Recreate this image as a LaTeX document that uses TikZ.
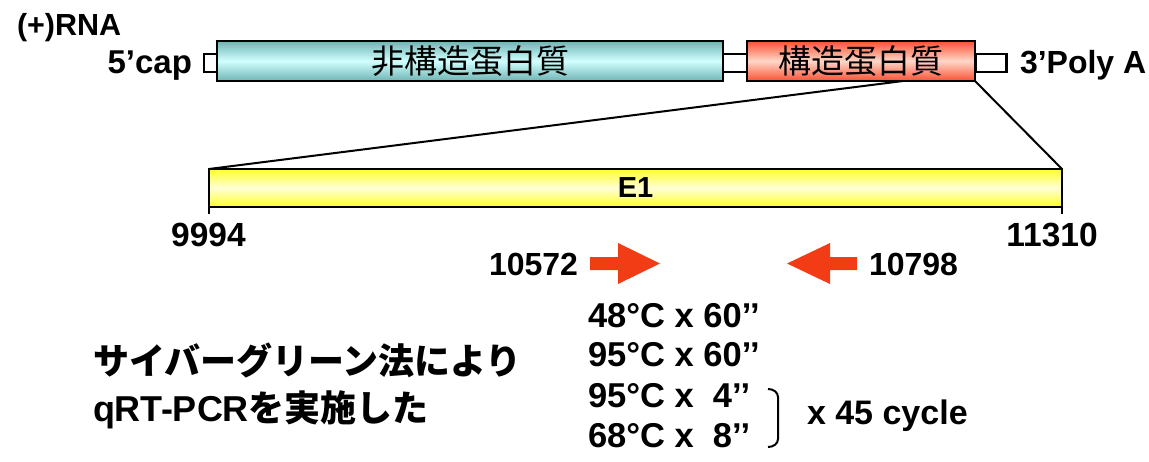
\documentclass[tikz,border=0pt]{standalone}
\usepackage{fontspec}
\setmainfont{Liberation Sans}
\newfontfamily\cjk{Noto Sans CJK JP}
\definecolor{cyedge}{RGB}{110,180,180}
\definecolor{cymid}{RGB}{210,255,255}
\definecolor{rdedge}{RGB}{250,80,50}
\definecolor{rdmid}{RGB}{255,215,200}
\definecolor{yeedge}{RGB}{255,255,40}
\definecolor{yemid}{RGB}{255,255,215}
\definecolor{arrowc}{RGB}{242,60,22}
\tikzset{
  gbox/.style={draw=black, line width=2.5pt, rectangle, inner sep=0pt, outer sep=0pt},
  wbox/.style={gbox, fill=white},
  lbl/.style={inner sep=0pt, outer sep=0pt, font=\bfseries\fontsize{32}{38}\selectfont},
  prot/.style={inner sep=0pt, outer sep=0pt, anchor=base west, font=\bfseries\fontsize{34.5}{40}\selectfont},
  jp/.style={inner sep=0pt, outer sep=0pt, anchor=base west, font=\bfseries\fontsize{36}{42}\selectfont},
  conn/.style={draw=black, line width=2pt},
  prim/.style={fill=arrowc, draw=none}
}
\begin{document}
\begin{tikzpicture}[x=1pt,y=-1pt]
\useasboundingbox (0,0) rectangle (1149,461);
% top RNA
\node[lbl, anchor=base west, font=\bfseries\fontsize{30.5}{36}\selectfont] (rna) at (17,35) {(+)RNA};
\node[wbox, minimum width=13pt, minimum height=18pt] (cap) at (210.5,63) {};
\node[wbox, minimum width=26pt, minimum height=18pt] (link) at (735,63) {};
\node[wbox, minimum width=31pt, minimum height=18pt] (tail) at (991,63) {};
\node[gbox, minimum width=506pt, minimum height=40pt, top color=cyedge, bottom color=cyedge, middle color=cymid, font=\cjk\fontsize{33}{38}\selectfont] (ns) at (470,61) {非構造蛋白質};
\node[gbox, minimum width=228pt, minimum height=40pt, top color=rdedge, bottom color=rdedge, middle color=rdmid, font=\cjk\fontsize{33}{38}\selectfont] (st) at (861,61) {構造蛋白質};
\node[lbl, anchor=base east, font=\bfseries\fontsize{33}{38}\selectfont] (cap5) at (192,73) {5’cap};
\node[lbl, anchor=base west] (poly) at (1020,73) {3’Poly A};
% E1
\node[gbox, minimum width=853pt, minimum height=38pt, top color=yeedge, bottom color=yeedge, middle color=yemid, font=\bfseries\fontsize{29}{32}\selectfont] (e1) at (635.5,188) {E1};
\coordinate (zs) at (903,81);
\draw[conn] (zs) -- (e1.north west);
\draw[conn] (st.south east) -- (e1.north east);
\coordinate (tl) at (209,214);
\coordinate (tr) at (1062,214);
\draw[conn] (e1.south west) -- (tl);
\draw[conn] (e1.south east) -- (tr);
\node[lbl, anchor=base, font=\bfseries\fontsize{33.5}{38}\selectfont] (n1) at (208.5,246) {9994};
\node[lbl, anchor=base, font=\bfseries\fontsize{33.5}{38}\selectfont] (n2) at (1052,246) {11310};
% primers
\node[lbl, anchor=base east] (fw) at (578,275) {10572};
\node[lbl, anchor=base west] (rv) at (869,275) {10798};
\fill[prim] (590,257) -- (618,257) -- (618,243) -- (660,263.5) -- (618,284) -- (618,270) -- (590,270) -- cycle;
\fill[prim] (857,257) -- (830,257) -- (830,243) -- (787,263.5) -- (830,284) -- (830,270) -- (857,270) -- cycle;
% protocol
\node[prot] (p1) at (588,327) {48°C x 60’’};
\node[prot] (p2) at (588,366) {95°C x 60’’};
\node[prot] (p3) at (588,407) {95°C x\ \ 4’’};
\node[prot] (p4) at (588,447) {68°C x\ \ 8’’};
\draw[line width=2pt] (768,389) to[out=0,in=90] (778,397) -- (778,439) to[out=-90,in=0] (768,447);
\node[prot, font=\bfseries\fontsize{34}{40}\selectfont] (cyc) at (807,424) {x 45 cycle};
% method text
\node[jp, font=\cjk\bfseries\fontsize{36}{42}\selectfont] (m1) at (93,374) {サイバーグリーン法により};
\node[jp] (m2) at (93,421) {qRT-PCR{\cjk を実施した}};
\end{tikzpicture}
\end{document}
